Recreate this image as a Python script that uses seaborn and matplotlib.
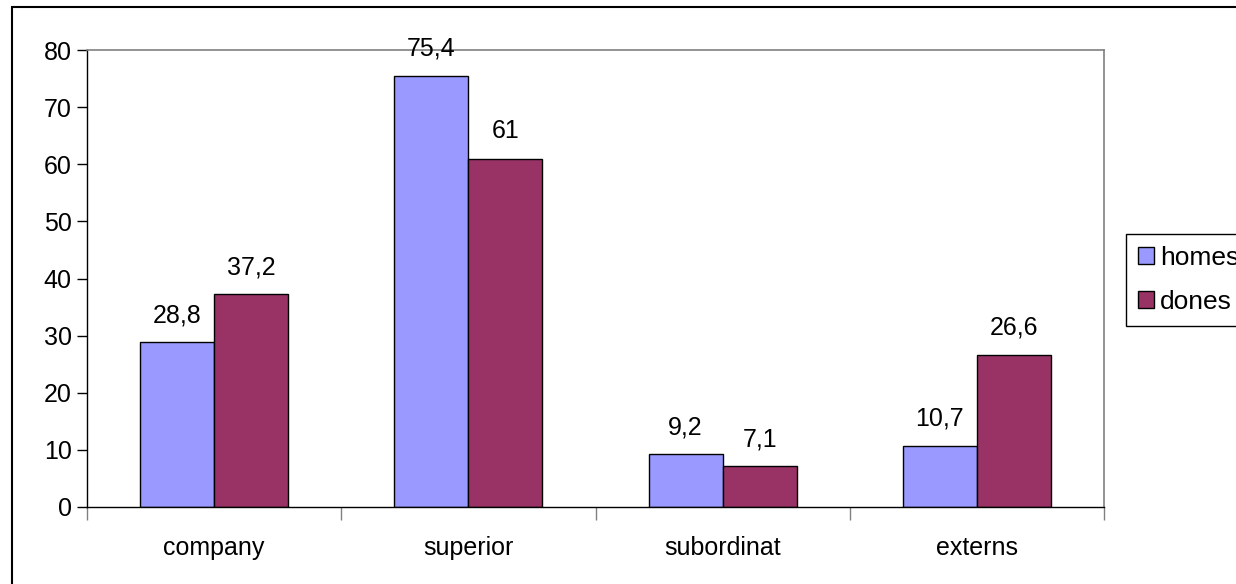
import pandas as pd
import seaborn as sns
from matplotlib import pyplot as plt
from matplotlib.patches import Patch, Rectangle
from matplotlib.ticker import FixedLocator

categories = ['company', 'superior', 'subordinat', 'externs']
series = ['homes', 'dones']
homes = [28.8, 75.4, 9.2, 10.7]
dones = [37.2, 61, 7.1, 26.6]
colors = ['#9999FF', '#993366']

df = pd.DataFrame({
    'cat': categories * 2,
    'serie': ['homes'] * 4 + ['dones'] * 4,
    'val': homes + dones,
})

sns.set_style('white')
plt.rcParams['font.family'] = ['Liberation Sans', 'DejaVu Sans']
plt.rcParams['text.color'] = 'black'
plt.rcParams['xtick.color'] = 'black'
plt.rcParams['ytick.color'] = 'black'

fig = plt.figure(figsize=(12.36, 5.84), dpi=100)
ax = fig.add_axes([87 / 1236, 1 - 507 / 584, (1104 - 87) / 1236, (507 - 50) / 584])

sns.barplot(data=df, x='cat', y='val', hue='serie', palette=colors, ax=ax,
            width=148 / 254, gap=0, edgecolor='black', linewidth=1,
            saturation=1, legend=False, dodge=True)

def fmt(v):
    return f'{v:g}'.replace('.', ',')

for cont in ax.containers:
    ax.bar_label(cont, labels=[fmt(b.get_height()) for b in cont], padding=11,
                 fontsize=18, color='black')

ax.set_ylim(0, 80)
ax.set_xlim(-0.5, 3.5)
ax.set_yticks(range(0, 81, 10))
ax.tick_params(axis='y', labelsize=18, length=7, width=1, color='black',
               labelcolor='black', direction='out', pad=4, left=True)
ax.tick_params(axis='x', which='major', labelsize=18, length=0, pad=21,
               labelcolor='black')
ax.xaxis.set_minor_locator(FixedLocator([-0.5, 0.5, 1.5, 2.5, 3.5]))
ax.tick_params(axis='x', which='minor', length=9, width=1, color='#808080',
               direction='out', bottom=True)
ax.set_xlabel('')
ax.set_ylabel('')

for side in ['left', 'bottom']:
    ax.spines[side].set_color('black')
    ax.spines[side].set_linewidth(1)
for side in ['top', 'right']:
    ax.spines[side].set_color('#808080')
    ax.spines[side].set_linewidth(1.2)

handles = [Patch(facecolor=c, edgecolor='black', linewidth=1) for c in colors]
fig.legend(handles, series, loc='upper left',
           bbox_to_anchor=(1126 / 1236, 1 - 234 / 584), fontsize=19,
           frameon=True, fancybox=False, framealpha=1, edgecolor='black',
           handlelength=0.6, handleheight=0.6, handletextpad=0.25,
           labelspacing=0.75, borderpad=0.45, borderaxespad=0)

fig.patches.append(Rectangle((12 / 1236, -0.2), 2, 1.2 - 7 / 584,
                             transform=fig.transFigure, fill=False,
                             edgecolor='black', linewidth=1.5))

plt.savefig('out.png', dpi=100)
